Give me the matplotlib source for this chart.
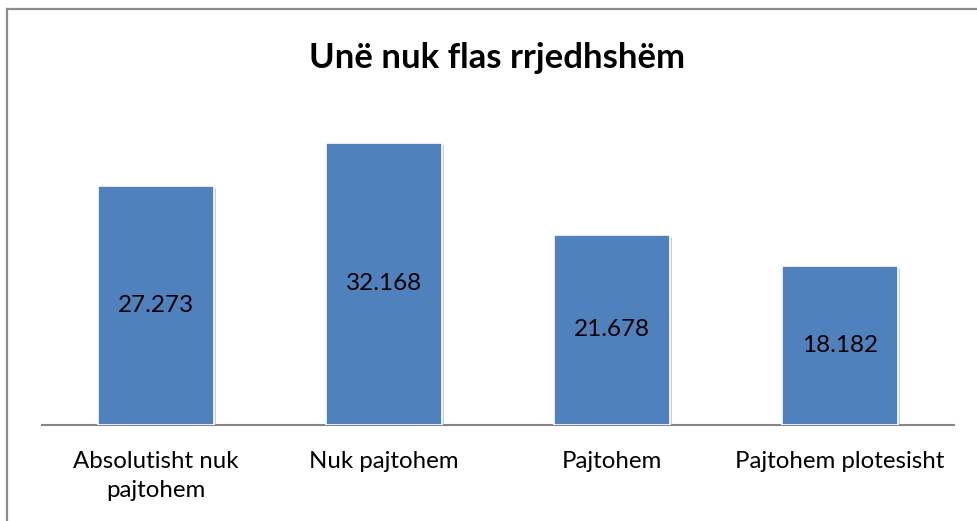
import matplotlib.pyplot as plt
import matplotlib.patheffects as pe
from matplotlib.lines import Line2D

# data
categories = ['Absolutisht nuk\npajtohem', 'Nuk pajtohem', 'Pajtohem', 'Pajtohem plotesisht']
values = [27.273, 32.168, 21.678, 18.182]
title = 'Unë nuk flas rrjedhshëm'

plt.rcParams['font.family'] = ['Lato', 'DejaVu Sans']

W, H = 978, 521
fig = plt.figure(figsize=(W / 100, H / 100), dpi=100)
ax = fig.add_axes([42 / W, (H - 425) / H, (954 - 42) / W, (425 - 118) / H])

x = range(len(values))
bars = ax.bar(x, values, width=0.51, color='#4F81BD', edgecolor='white', linewidth=1.2, zorder=3)
for b in bars:
    b.set_path_effects([pe.SimplePatchShadow(offset=(1.5, -1.5), shadow_rgbFace='#9a9a9a', alpha=0.5),
                        pe.Normal()])

for xi, v in zip(x, values):
    ax.text(xi, v / 2, f'{v:.3f}', ha='center', va='center', fontsize=17.5, color='black', zorder=4)

ax.set_xlim(-0.5, len(values) - 0.5)
ax.set_ylim(0, 35)
ax.set_xticks(list(x))
ax.set_xticklabels(categories, fontsize=17.3, linespacing=1.45, va='top')
ax.tick_params(axis='x', length=0, pad=19)
ax.set_yticks([])
for s in ['top', 'right', 'left']:
    ax.spines[s].set_visible(False)
ax.spines['bottom'].set_color('#868686')
ax.spines['bottom'].set_linewidth(1.5)

fig.text(497 / W, 1 - 58 / H, title, ha='center', va='center', fontsize=25, fontweight='bold')

# outer chart border (only top and left visible in the crop)
fig.add_artist(Line2D([7.5 / W, 7.5 / W], [0, 1 - 8.5 / H], color='#8c8c8c', lw=1.6, transform=fig.transFigure))
fig.add_artist(Line2D([7.5 / W, 1], [1 - 8.5 / H, 1 - 8.5 / H], color='#8c8c8c', lw=1.6, transform=fig.transFigure))

fig.savefig('out.png', dpi=100)
